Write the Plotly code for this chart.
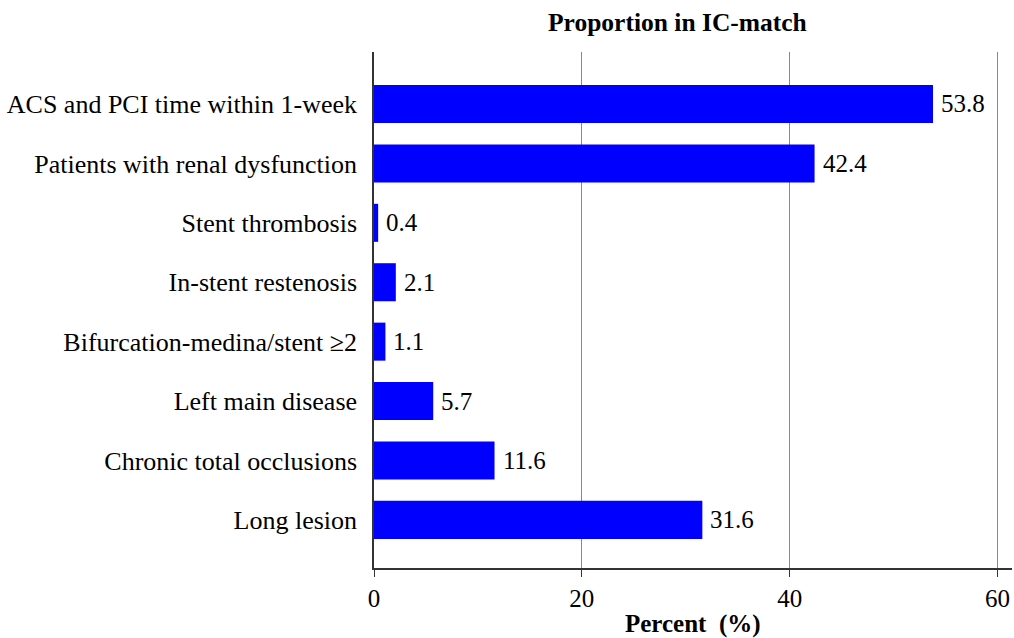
import plotly.graph_objects as go

categories = [
    "ACS and PCI time within 1-week",
    "Patients with renal dysfunction",
    "Stent thrombosis",
    "In-stent restenosis",
    "Bifurcation-medina/stent \u22652",
    "Left main disease",
    "Chronic total occlusions",
    "Long lesion",
]
values = [53.8, 42.4, 0.4, 2.1, 1.1, 5.7, 11.6, 31.6]
labels = [f"{v:.1f}" for v in values]
x_ticks = [0, 20, 40, 60]

FONT = "Liberation Serif, Times New Roman, serif"

fig = go.Figure(
    go.Bar(
        y=categories,
        x=values,
        orientation="h",
        marker=dict(color="#0000FF", line=dict(width=0)),
        width=0.64,
        cliponaxis=False,
    )
)

annotations = [
    dict(
        x=v, y=c, xref="x", yref="y", text=t,
        xanchor="left", yanchor="middle", xshift=6, showarrow=False,
        font=dict(family=FONT, size=25, color="black"),
    )
    for c, v, t in zip(categories, values, labels)
]
annotations += [
    dict(
        text="<b>Proportion in IC-match</b>",
        x=0.476, y=1.058, xref="paper", yref="paper",
        xanchor="center", yanchor="middle", showarrow=False,
        font=dict(family=FONT, size=25.5, color="black"),
    ),
    dict(
        text="<b>Percent  (%)</b>",
        x=0.5, y=-0.108, xref="paper", yref="paper",
        xanchor="center", yanchor="middle", showarrow=False,
        font=dict(family=FONT, size=25, color="black"),
    ),
]

fig.update_layout(
    width=1014,
    height=638,
    margin=dict(l=374, r=2, t=52, b=70),
    plot_bgcolor="white",
    paper_bgcolor="white",
    font=dict(family=FONT, size=25, color="black"),
    showlegend=False,
    annotations=annotations,
)

fig.update_xaxes(
    range=[0, 61.4],
    tickvals=x_ticks,
    ticks="outside",
    ticklen=7,
    tickcolor="#333",
    showgrid=True,
    gridcolor="#888",
    gridwidth=1,
    zeroline=False,
    showline=True,
    linecolor="#333",
    linewidth=1.5,
    automargin=False,
    ticklabeloverflow="allow",
    tickfont=dict(family=FONT, size=25),
)

fig.update_yaxes(
    categoryorder="array",
    categoryarray=categories,
    range=[7.81, -0.875],
    showline=True,
    linecolor="#333",
    linewidth=1.5,
    ticks="",
    showgrid=False,
    automargin=False,
    ticklabelstandoff=10,
    tickfont=dict(family=FONT, size=26),
)

# remove the default page margin so the figure fills the window exactly
fig.write_html(
    "out.html",
    config={"displayModeBar": False},
    post_script="document.body.style.margin='0';document.body.style.overflow='hidden';",
)
